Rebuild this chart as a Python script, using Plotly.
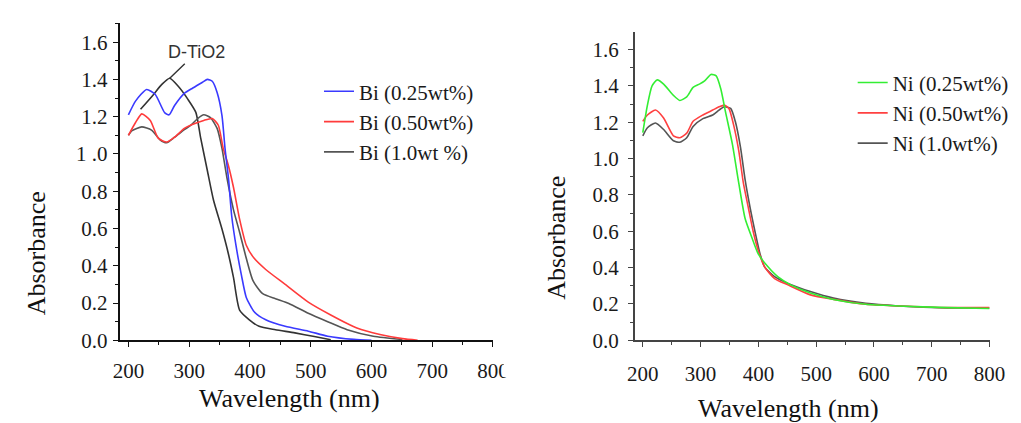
import plotly.graph_objects as go

# ---------------- data ----------------
# Left panel: Bi-doped TiO2
bi025_wl = [200, 212, 230, 244, 260, 267, 276, 292, 306, 322, 330, 338, 346, 354, 359, 365, 370, 378, 386, 394, 407, 426, 458, 496, 528, 571, 600]
bi025_ab = [1.21, 1.285, 1.346, 1.32, 1.22, 1.21, 1.26, 1.325, 1.354, 1.385, 1.40, 1.39, 1.33, 1.206, 1.03, 0.86, 0.667, 0.49, 0.35, 0.23, 0.153, 0.11, 0.075, 0.049, 0.022, 0.005, 0.0]

bi050_wl = [200, 212, 222, 236, 249, 263, 276, 292, 303, 324, 338, 348, 356, 364, 373, 383, 394, 407, 426, 458, 496, 533, 576, 614, 651, 676]
bi050_ab = [1.10, 1.17, 1.215, 1.18, 1.085, 1.064, 1.09, 1.137, 1.155, 1.18, 1.19, 1.154, 1.03, 0.945, 0.82, 0.65, 0.51, 0.44, 0.38, 0.30, 0.205, 0.136, 0.066, 0.031, 0.009, 0.0]

bi10_wl = [200, 206, 222, 238, 252, 263, 276, 292, 303, 314, 324, 335, 346, 354, 362, 373, 383, 394, 405, 421, 442, 464, 496, 528, 560, 603, 651]
bi10_ab = [1.10, 1.125, 1.145, 1.128, 1.076, 1.06, 1.09, 1.13, 1.155, 1.19, 1.21, 1.195, 1.137, 1.03, 0.875, 0.70, 0.58, 0.44, 0.32, 0.25, 0.223, 0.197, 0.145, 0.10, 0.057, 0.022, 0.005]

dtio2_wl = [220, 239, 255, 268, 282, 298, 311, 319, 330, 340, 354, 365, 373, 383, 399, 415, 442, 474, 506, 533]
dtio2_ab = [1.24, 1.31, 1.373, 1.406, 1.363, 1.293, 1.223, 1.085, 0.91, 0.753, 0.597, 0.458, 0.336, 0.162, 0.11, 0.075, 0.057, 0.04, 0.02, 0.003]

# Right panel: Ni-doped TiO2
ni025_wl = [200, 208, 216, 225, 236, 253, 264, 276, 287, 298, 307, 318, 327, 335, 343, 355, 366, 377, 389, 400, 417, 434, 456, 490, 530, 586, 642, 727, 800]
ni025_ab = [1.143, 1.294, 1.40, 1.433, 1.41, 1.348, 1.32, 1.34, 1.392, 1.41, 1.428, 1.463, 1.455, 1.383, 1.258, 1.08, 0.866, 0.67, 0.563, 0.474, 0.403, 0.349, 0.305, 0.26, 0.225, 0.198, 0.189, 0.18, 0.175]

ni050_wl = [200, 208, 222, 236, 253, 264, 276, 287, 304, 321, 332, 341, 349, 357, 366, 374, 383, 391, 400, 411, 428, 451, 490, 530, 586, 642, 727, 800]
ni050_ab = [1.205, 1.24, 1.267, 1.223, 1.125, 1.115, 1.14, 1.205, 1.24, 1.267, 1.285, 1.294, 1.276, 1.187, 1.044, 0.866, 0.724, 0.599, 0.492, 0.403, 0.34, 0.305, 0.25, 0.225, 0.198, 0.189, 0.18, 0.18]

ni10_wl = [200, 208, 222, 236, 253, 264, 276, 287, 304, 321, 332, 341, 352, 360, 369, 377, 386, 394, 403, 411, 428, 451, 490, 530, 586, 642, 727, 800]
ni10_ab = [1.125, 1.17, 1.196, 1.16, 1.098, 1.09, 1.115, 1.177, 1.22, 1.24, 1.267, 1.285, 1.276, 1.205, 1.063, 0.884, 0.724, 0.60, 0.474, 0.403, 0.35, 0.313, 0.268, 0.232, 0.203, 0.189, 0.178, 0.178]

left_names = ["Bi (0.25wt%)", "Bi (0.50wt%)", "Bi (1.0wt %)"]
right_names = ["Ni (0.25wt%)", "Ni (0.50wt%)", "Ni (1.0wt%)"]
y_ticks = [0.0, 0.2, 0.4, 0.6, 0.8, 1.0, 1.2, 1.4, 1.6]
y_ticklabels = ["0.0", "0.2", "0.4", "0.6", "0.8", "1 .0", "1.2", "1.4", "1.6"]
y_ticklabels_r = ["0.0", "0.2", "0.4", "0.6", "0.8", "1.0", "1.2", "1.4", "1.6"]
x_ticks = [200, 300, 400, 500, 600, 700, 800]

# ---------------- figure ----------------
W, H = 1021, 423
SERIF = "Liberation Serif"
fig = go.Figure()

def add(x, y, name, color, xa, ya, legend, show=True, width=1.6):
    fig.add_trace(go.Scatter(x=x, y=y, mode="lines", name=name, xaxis=xa, yaxis=ya,
                             line=dict(color=color, width=width, shape="spline", smoothing=0.6),
                             legend=legend, showlegend=show))

add(dtio2_wl, dtio2_ab, "D-TiO2", "#333333", "x", "y", "legend", show=False)
add(bi10_wl, bi10_ab, left_names[2], "#555555", "x", "y", "legend")
add(bi050_wl, bi050_ab, left_names[1], "#ff3b3b", "x", "y", "legend")
add(bi025_wl, bi025_ab, left_names[0], "#3a3aff", "x", "y", "legend")

add(ni10_wl, ni10_ab, right_names[2], "#555555", "x2", "y2", "legend2")
add(ni050_wl, ni050_ab, right_names[1], "#ff4040", "x2", "y2", "legend2")
add(ni025_wl, ni025_ab, right_names[0], "#33ee33", "x2", "y2", "legend2")

def px_x(p):
    return p / W

def px_y(p):
    return (H - p) / H

axis_common = dict(showgrid=False, zeroline=False, showline=True, ticks="outside",
                   ticklen=5, mirror=False,
                   tickfont=dict(family=SERIF, size=21, color="#1a1a1a"))

fig.update_layout(
    width=W, height=H, margin=dict(l=0, r=0, t=0, b=0),
    paper_bgcolor="white", plot_bgcolor="white",
    font=dict(family=SERIF),
    xaxis=dict(domain=[px_x(107), px_x(489)], range=[185.5, 800], anchor="y",
               tickvals=x_ticks, linecolor="#111111", linewidth=2, tickcolor="#111111",
               ticklabelstandoff=6,
               minor=dict(ticks="outside", ticklen=3, dtick=50, tickcolor="#111111"),
               **axis_common),
    yaxis=dict(domain=[px_y(342), px_y(15)], range=[0, 1.705], anchor="x",
               tickvals=y_ticks, ticktext=y_ticklabels, linecolor="#111111", linewidth=2,
               tickcolor="#111111", ticklabelstandoff=1,
               minor=dict(ticks="outside", ticklen=3, dtick=0.1, tickcolor="#111111"),
               **axis_common),
    xaxis2=dict(domain=[px_x(634), px_x(997)], range=[186, 800], anchor="y2",
                tickvals=x_ticks, linecolor="#444444", linewidth=1.6, tickcolor="#444444",
                ticklabelstandoff=9,
                minor=dict(ticks="outside", ticklen=3, dtick=50, tickcolor="#444444"),
                **axis_common),
    yaxis2=dict(domain=[px_y(342), px_y(25)], range=[0, 1.695], anchor="x2",
                tickvals=y_ticks, ticktext=y_ticklabels_r, linecolor="#444444", linewidth=1.6,
                tickcolor="#444444", ticklabelstandoff=5,
                minor=dict(ticks="outside", ticklen=3, dtick=0.1, tickcolor="#444444"),
                **axis_common),
    legend=dict(x=px_x(311), y=px_y(65), xanchor="left", yanchor="top",
                bgcolor="rgba(0,0,0,0)", itemwidth=30, traceorder="reversed",
                font=dict(family=SERIF, size=21, color="#1a1a1a")),
    legend2=dict(x=px_x(857), y=px_y(56), xanchor="left", yanchor="top",
                 bgcolor="rgba(0,0,0,0)", itemwidth=30, traceorder="reversed",
                 font=dict(family=SERIF, size=21, color="#1a1a1a")),
    showlegend=True,
)

# D-TiO2 label with leader line
fig.add_annotation(x=268, y=1.406, xref="x", yref="y", text="D-TiO2",
                   showarrow=True, arrowhead=0, arrowwidth=1.4, arrowcolor="#333333",
                   ax=27, ay=-26, font=dict(family="Liberation Sans", size=18, color="#333333"))

# Axis titles
title_font = dict(family=SERIF, size=26, color="#111111")
fig.add_annotation(x=px_x(22), y=px_y(253), xref="paper", yref="paper", text="Absorbance",
                   textangle=-90, showarrow=False, font=title_font, xanchor="center", yanchor="middle")
fig.add_annotation(x=px_x(554), y=px_y(237), xref="paper", yref="paper", text="Absorbance",
                   textangle=-90, showarrow=False, font=title_font, xanchor="center", yanchor="middle")
fig.add_annotation(x=px_x(281), y=px_y(402), xref="paper", yref="paper", text="Wavelength (nm)",
                   showarrow=False, font=title_font, xanchor="center", yanchor="middle")
fig.add_annotation(x=px_x(791), y=px_y(412), xref="paper", yref="paper", text="Wavelength (nm)",
                   showarrow=False, font=title_font, xanchor="center", yanchor="middle")

# the left image is cropped just past x=500 in the reference
fig.add_shape(type="rect", xref="paper", yref="paper", x0=px_x(500), x1=px_x(560),
              y0=px_y(380), y1=px_y(346), fillcolor="white", line=dict(width=0), layer="above")

fig.write_html("out.html")
